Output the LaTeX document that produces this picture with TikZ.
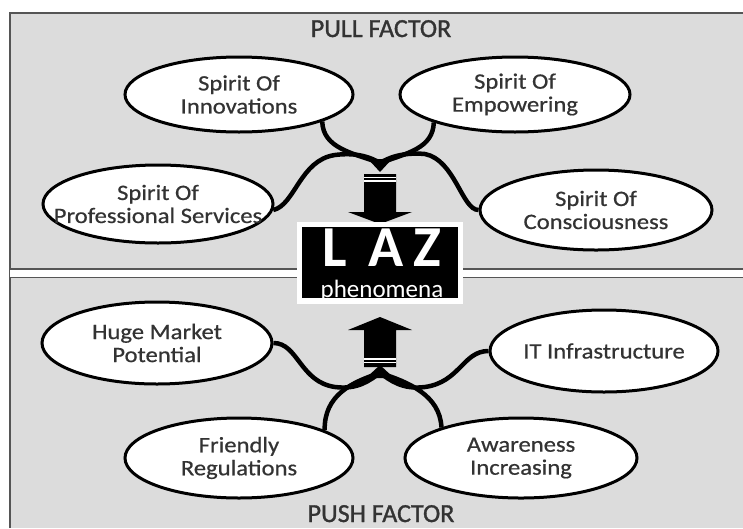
\documentclass[tikz,border=0pt]{standalone}
\usepackage{fontspec}
\setmainfont{Carlito}
\newfontfamily\bubblefont{Carlito}[FakeStretch=1.12, FakeBold=0.6]
\newfontfamily\titlefont{Carlito}[FakeBold=1.2]
\usetikzlibrary{shapes.geometric}
\definecolor{panel}{HTML}{DCDCDC}
\definecolor{frameline}{HTML}{555555}
\definecolor{txt}{HTML}{333333}
\begin{document}
\begin{tikzpicture}[x=1pt,y=-1pt,
  bubble/.style={ellipse, draw=black, line width=3pt, fill=white, inner xsep=-50pt, inner ysep=-15pt,
    align=center, font=\bubblefont\fontsize{22}{23}\selectfont, text=txt},
  link/.style={line width=4.5pt, black},
  factor/.style={font=\titlefont\fontsize{26}{28}\selectfont, text=txt, anchor=base, inner sep=0pt},
  lazletter/.style={font=\fontsize{58}{60}\bfseries\selectfont, text=white, anchor=base, inner sep=0pt},
  stripe/.style={white, line width=1.2pt},
]
\useasboundingbox (0,0) rectangle (743,528);
% panel and frame
\fill[white] (0,0) rectangle (743,528);
\fill[panel] (10,13) rectangle (743,528);
\draw[frameline, line width=2pt] (10,528) -- (10,13) -- (743,13);
% separator
\fill[white] (10,269) rectangle (743,277.5);
\draw[frameline, line width=1.5pt] (10,269) -- (743,269);
\draw[frameline, line width=1.5pt] (10,277.5) -- (743,277.5);

% titles
\node[factor] (pull) at (381,37) {PULL FACTOR};
\node[factor] (push) at (381,522) {PUSH FACTOR};

% ellipses
\node[bubble, minimum width=228pt, minimum height=75pt] (inn) at (239,94.5) {Spirit Of\\Innovations};
\node[bubble, minimum width=230pt, minimum height=75pt] (emp) at (515,94.5) {Spirit Of\\Empowering};
\node[bubble, minimum width=230pt, minimum height=78pt] (prof) at (158,204) {Spirit Of\\Professional Services};
\node[bubble, minimum width=232pt, minimum height=80pt] (cons) at (596,210) {Spirit Of\\Consciousness};
\node[bubble, minimum width=230pt, minimum height=82pt] (huge) at (157,343) {Huge Market\\Potential};
\node[bubble, minimum width=228pt, minimum height=82pt] (it) at (604,351) {IT Infrastructure};
\node[bubble, minimum width=228pt, minimum height=80pt] (fr) at (239,458) {Friendly\\Regulations};
\node[bubble, minimum width=232pt, minimum height=80pt] (aw) at (521,458) {Awareness\\Increasing};

% junctions
\coordinate (j1) at (380,163);
\coordinate (j2) at (380,373);

% top connectors
\draw[link] (inn.-18) .. controls (323,148) and (352,153) .. (j1);
\draw[link] (emp.-161) .. controls (433,148) and (408,153) .. (j1);
\draw[link] (prof.-3) .. controls (295,205) and (300,160) .. (335,155) .. controls (358,152) and (372,158) .. (j1);
\draw[link] (cons.180) .. controls (462,210) and (455,160) .. (425,154) .. controls (402,152) and (388,158) .. (j1);
\fill (368,159) -- (392,159) -- (380,172) -- cycle;

% bottom connectors
\draw[link] (huge.0) .. controls (298,343) and (300,382) .. (335,387) .. controls (358,390) and (370,380) .. (j2);
\draw[link] (it.180) .. controls (463,351) and (460,382) .. (425,387) .. controls (402,390) and (390,380) .. (j2);
\draw[link] (fr.18) .. controls (324,395) and (352,382) .. (j2);
\draw[link] (aw.159) .. controls (440,395) and (408,382) .. (j2);
\fill (366,378) -- (394,378) -- (380,365) -- cycle;

% down arrow
\fill (364,174) -- (396,174) -- (396,212) -- (412,212) -- (380,224) -- (348,212) -- (364,212) -- cycle;
\draw[stripe] (364,177.5) -- (396,177.5);
\draw[stripe] (364,181) -- (396,181);

% up arrow
\fill (380,317) -- (412,330) -- (396,330) -- (396,367) -- (364,367) -- (364,330) -- (348,330) -- cycle;
\draw[stripe] (364,359) -- (396,359);
\draw[stripe] (364,362.5) -- (396,362.5);

% LAZ box
\fill[white] (297,222) rectangle (463,304);
\node[fill=black, minimum width=156pt, minimum height=71pt, inner sep=0pt] (laz) at (380,262.5) {};
\node[lazletter] (lazl) at (335,266) {L};
\node[lazletter] (laza) at (386,266) {A};
\node[lazletter] (lazz) at (427,266) {Z};
\node[font=\fontsize{25}{27}\selectfont, text=white, anchor=base, inner sep=0pt] (phen) at (382,297) {phenomena};
\end{tikzpicture}
\end{document}
